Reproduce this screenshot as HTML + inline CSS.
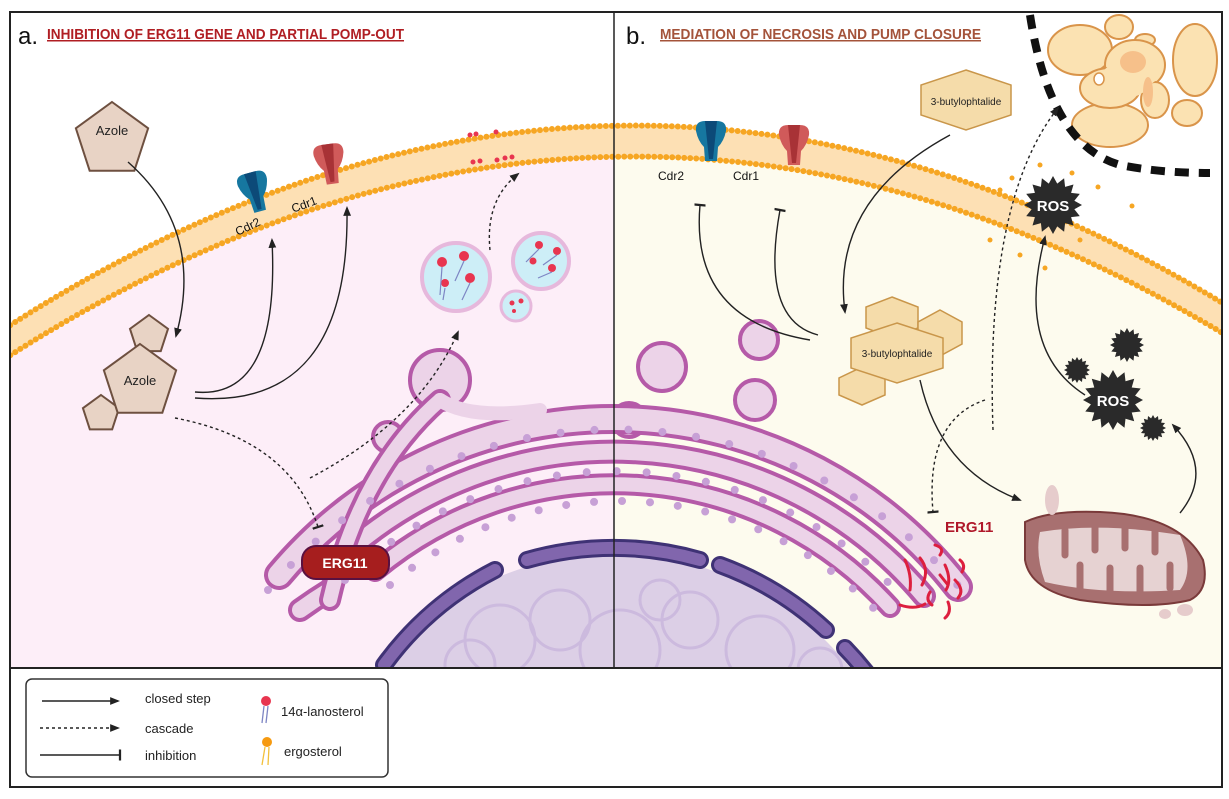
<!DOCTYPE html>
<html><head><meta charset="utf-8"><style>
html,body{margin:0;padding:0;background:#fff;width:1229px;height:799px;overflow:hidden}
svg{display:block}
text{font-family:"Liberation Sans",sans-serif}
</style></head><body>
<svg width="1229" height="799" viewBox="0 0 1229 799" xmlns="http://www.w3.org/2000/svg">
<defs>
<clipPath id="cl"><rect x="10" y="12" width="604" height="656"/></clipPath>
<clipPath id="cr"><rect x="614" y="12" width="608" height="656"/></clipPath>
<clipPath id="cm"><rect x="10" y="12" width="1212" height="656"/></clipPath>
<marker id="ah" viewBox="0 0 10 10" refX="8" refY="5" markerWidth="7" markerHeight="7" orient="auto"><path d="M0,1 L10,5 L0,9 Z" fill="#222"/></marker>
<marker id="tb" viewBox="0 0 10 10" refX="5" refY="5" markerWidth="8" markerHeight="8" orient="auto"><path d="M5,0 L5,10" stroke="#222" stroke-width="2"/></marker>
<polygon id="star" points="1,0 .736,.146 .924,.383 .624,.417 .707,.707 .417,.624 .383,.924 .146,.736 0,1 -.146,.736 -.383,.924 -.417,.624 -.707,.707 -.624,.417 -.924,.383 -.736,.146 -1,0 -.736,-.146 -.924,-.383 -.624,-.417 -.707,-.707 -.417,-.624 -.383,-.924 -.146,-.736 0,-1 .146,-.736 .383,-.924 .417,-.624 .707,-.707 .624,-.417 .924,-.383 .736,-.146"/>
<path id="prot" d="M-15,-10 Q-16,-20 -6,-20 L6,-20 Q16,-20 15,-10 Q13,0 7,6 L6,20 L-6,20 L-7,6 Q-13,0 -15,-10 Z"/>
</defs>

<g clip-path="url(#cl)"><path d="M-20,360 Q615,-65 1250,335 L1250,700 L-20,700 Z" fill="#fdeef8"/></g>
<g clip-path="url(#cr)"><path d="M-20,360 Q615,-65 1250,335 L1250,700 L-20,700 Z" fill="#fdfbee"/></g>

<g clip-path="url(#cm)" fill="none">
<path d="M-20,360 Q615,-65 1250,335" stroke="#fde0b4" stroke-width="30"/>
<path d="M-20,345 Q615,-81 1250,320" stroke="#f6a623" stroke-width="6" stroke-dasharray="0 6" stroke-linecap="round"/>
<path d="M-20,375 Q615,-49 1250,350" stroke="#f6a623" stroke-width="6" stroke-dasharray="0 6" stroke-linecap="round"/>
</g>
<g fill="#f6a623">
<circle cx="1000" cy="190" r="2.5"/><circle cx="1012" cy="178" r="2.5"/><circle cx="1040" cy="165" r="2.5"/><circle cx="1072" cy="173" r="2.5"/><circle cx="1098" cy="187" r="2.5"/><circle cx="1132" cy="206" r="2.5"/><circle cx="1066" cy="200" r="2.5"/><circle cx="990" cy="240" r="2.5"/><circle cx="1020" cy="255" r="2.5"/><circle cx="1045" cy="268" r="2.5"/><circle cx="1080" cy="240" r="2.5"/>
</g>

<g clip-path="url(#cm)">
<circle cx="614" cy="856" r="302" fill="#dccfe6"/>
<g fill="none" stroke="#c9b5dd" stroke-width="3" opacity="0.8">
<circle cx="500" cy="640" r="35"/><circle cx="560" cy="620" r="30"/><circle cx="620" cy="650" r="40"/><circle cx="690" cy="620" r="28"/><circle cx="760" cy="650" r="34"/><circle cx="470" cy="665" r="25"/><circle cx="820" cy="670" r="22"/><circle cx="660" cy="600" r="20"/>
</g>
<g fill="none" stroke-linecap="round">
<path d="M527,560 A314,314 0 0 1 700,560" stroke="#3f3275" stroke-width="18"/>
<path d="M527,560 A314,314 0 0 1 700,560" stroke="#8166ad" stroke-width="12"/>
<path d="M495,570 A314,314 0 0 0 384,665" stroke="#3f3275" stroke-width="18"/>
<path d="M495,570 A314,314 0 0 0 384,665" stroke="#8166ad" stroke-width="12"/>
<path d="M720,565 A314,314 0 0 1 826,630" stroke="#3f3275" stroke-width="18"/>
<path d="M720,565 A314,314 0 0 1 826,630" stroke="#8166ad" stroke-width="12"/>
<path d="M845,648 A314,314 0 0 1 866,672" stroke="#3f3275" stroke-width="18"/>
<path d="M845,648 A314,314 0 0 1 866,672" stroke="#8166ad" stroke-width="12"/>
</g>
</g>

<g fill="none" stroke-linecap="round" clip-path="url(#cm)">
<g stroke="#b55aa8" stroke-width="4" fill="#ecd3e8">
<path d="M420,425 Q430,410 425,395"/>
<circle cx="440" cy="380" r="30"/>
<circle cx="388" cy="437" r="15"/>
<circle cx="662" cy="367" r="24"/>
<circle cx="759" cy="340" r="19"/>
<circle cx="629" cy="420" r="17"/>
<circle cx="755" cy="400" r="20"/>
</g>
<path d="M279,575 A437,437 0 0 1 958,587" stroke="#b55aa8" stroke-width="30"/>
<path d="M279,575 A437,437 0 0 1 958,587" stroke="#ecd3e8" stroke-width="22"/>
<path d="M328,570 A405,405 0 0 1 924,596" stroke="#b55aa8" stroke-width="24"/>
<path d="M328,570 A405,405 0 0 1 924,596" stroke="#ecd3e8" stroke-width="16"/>
<path d="M375,571 A372,372 0 0 1 890,607" stroke="#b55aa8" stroke-width="22"/>
<path d="M375,571 A372,372 0 0 1 890,607" stroke="#ecd3e8" stroke-width="14"/>
<path d="M300,610 A470,470 0 0 1 330,590" stroke="#b55aa8" stroke-width="24"/>
<path d="M300,610 A470,470 0 0 1 330,590" stroke="#ecd3e8" stroke-width="16"/>
<path d="M330,600 Q360,470 440,400" stroke="#b55aa8" stroke-width="22"/>
<path d="M330,600 Q360,470 440,400" stroke="#ecd3e8" stroke-width="14"/>
<path d="M440,400 Q470,420 540,410" stroke="#ecd3e8" stroke-width="14"/>
<path d="M268,590 A455,455 0 0 1 970,600" stroke="#c7a0d6" stroke-width="8" stroke-dasharray="0 34"/>
<path d="M345,580 A390,390 0 0 1 905,600" stroke="#c7a0d6" stroke-width="8" stroke-dasharray="0 30"/>
<path d="M390,585 A355,355 0 0 1 880,615" stroke="#c7a0d6" stroke-width="8" stroke-dasharray="0 28"/>
</g>

<g>
<circle cx="456" cy="277" r="34" fill="#cdeef7" stroke="#e6b8dc" stroke-width="4"/>
<circle cx="541" cy="261" r="28" fill="#cdeef7" stroke="#e6b8dc" stroke-width="4"/>
<circle cx="516" cy="306" r="15" fill="#cdeef7" stroke="#e6b8dc" stroke-width="3"/>
<g fill="#e8354f"><circle cx="442" cy="262" r="5"/><circle cx="464" cy="256" r="5"/><circle cx="445" cy="283" r="4"/><circle cx="470" cy="278" r="5"/><circle cx="539" cy="245" r="4"/><circle cx="557" cy="251" r="4"/><circle cx="533" cy="261" r="3.5"/><circle cx="552" cy="268" r="4"/><circle cx="512" cy="303" r="2.5"/><circle cx="521" cy="301" r="2.5"/><circle cx="514" cy="311" r="2"/></g>
<g stroke="#7e86c4" stroke-width="1.2"><path d="M442,267 L440,295"/><path d="M464,261 L455,281"/><path d="M470,283 L462,300"/><path d="M445,288 L443,300"/><path d="M539,249 L526,262"/><path d="M557,255 L543,265"/><path d="M552,272 L538,278"/></g>
<g fill="#e8354f"><circle cx="470" cy="135" r="2.5"/><circle cx="476" cy="134" r="2.5"/><circle cx="496" cy="132" r="2.5"/><circle cx="473" cy="162" r="2.5"/><circle cx="480" cy="161" r="2.5"/><circle cx="497" cy="160" r="2.5"/><circle cx="505" cy="158" r="2.5"/><circle cx="512" cy="157" r="2.5"/></g>
</g>

<g transform="translate(255,192) rotate(-15)"><use href="#prot" fill="#1677a0"/><path d="M-6,-20 L-2,18 L2,18 L6,-20 Z" fill="#0c4a78"/></g>
<g transform="translate(330,164) rotate(-8)"><use href="#prot" fill="#d05a5a"/><path d="M-6,-20 L-2,18 L2,18 L6,-20 Z" fill="#a83236"/></g>
<g transform="translate(711,141)"><use href="#prot" fill="#1677a0"/><path d="M-6,-20 L-2,18 L2,18 L6,-20 Z" fill="#0c4a78"/></g>
<g transform="translate(794,145)"><use href="#prot" fill="#d05a5a"/><path d="M-6,-20 L-2,18 L2,18 L6,-20 Z" fill="#a83236"/></g>
<g font-size="12" fill="#111">
<text x="235" y="232" transform="rotate(-25 245 228)">Cdr2</text>
<text x="291" y="210" transform="rotate(-20 300 205)">Cdr1</text>
<text x="658" y="180">Cdr2</text>
<text x="733" y="180">Cdr1</text>
</g>

<g fill="#e8d3c5" stroke="#6e5040" stroke-width="2">
<polygon transform="translate(112,140) scale(38)" vector-effect="non-scaling-stroke" points="0,-1 .951,-.309 .588,.809 -.588,.809 -.951,-.309"/>
<polygon transform="translate(149,335) scale(20)" vector-effect="non-scaling-stroke" points="0,-1 .951,-.309 .588,.809 -.588,.809 -.951,-.309"/>
<polygon transform="translate(101,414) scale(19)" vector-effect="non-scaling-stroke" points="0,-1 .951,-.309 .588,.809 -.588,.809 -.951,-.309"/>
<polygon transform="translate(140,382) scale(38)" vector-effect="non-scaling-stroke" points="0,-1 .951,-.309 .588,.809 -.588,.809 -.951,-.309"/>
</g>
<text x="112" y="135" font-size="13" text-anchor="middle" fill="#222">Azole</text>
<text x="140" y="385" font-size="13" text-anchor="middle" fill="#222">Azole</text>

<rect x="302" y="546" width="87" height="33" rx="14" fill="#a61e1e" stroke="#5a1040" stroke-width="2"/>
<text x="345" y="568" font-size="14" font-weight="bold" fill="#fff" text-anchor="middle">ERG11</text>

<g fill="none" stroke="#222" stroke-width="1.4">
<path d="M128,162 Q205,230 176,336" marker-end="url(#ah)"/>
<path d="M195,392 Q280,400 272,240" marker-end="url(#ah)"/>
<path d="M195,398 Q350,410 347,208" marker-end="url(#ah)"/>
<path d="M175,418 Q290,440 318,527" stroke-dasharray="3 3" marker-end="url(#tb)"/>
<path d="M310,478 Q420,420 458,332" stroke-dasharray="3 3" marker-end="url(#ah)"/>
<path d="M490,250 Q485,200 518,174" stroke-dasharray="3 3" marker-end="url(#ah)"/>
</g>

<g fill="#fbe2b2" stroke="#d9944a" stroke-width="2">
<ellipse cx="1080" cy="50" rx="32" ry="25"/>
<ellipse cx="1119" cy="27" rx="14" ry="12"/>
<ellipse cx="1145" cy="40" rx="10" ry="6"/>
<ellipse cx="1195" cy="60" rx="22" ry="36"/>
<ellipse cx="1110" cy="125" rx="38" ry="22"/>
<ellipse cx="1187" cy="113" rx="15" ry="13"/>
<ellipse cx="1135" cy="65" rx="30" ry="25"/>
<ellipse cx="1110" cy="88" rx="30" ry="20"/>
<ellipse cx="1155" cy="100" rx="14" ry="18"/>
</g>
<g fill="#fbe2b2"><ellipse cx="1135" cy="65" rx="28" ry="23"/><ellipse cx="1110" cy="88" rx="28" ry="18"/><ellipse cx="1155" cy="100" rx="12" ry="16"/><ellipse cx="1125" cy="80" rx="25" ry="18"/></g>
<ellipse cx="1099" cy="79" rx="5" ry="6" fill="#fff" stroke="#d9944a" stroke-width="1.5"/>
<ellipse cx="1133" cy="62" rx="13" ry="11" fill="#f6c08a"/>
<ellipse cx="1148" cy="92" rx="5" ry="15" fill="#f6c08a"/>
<path d="M1030,15 Q1050,145 1120,165 Q1160,173 1210,173" fill="none" stroke="#111" stroke-width="8" stroke-dasharray="14 10"/>

<g fill="#f5dcaa" stroke="#c9964a" stroke-width="1.5">
<polygon points="966,70 1011,85 1011,115 966,130 921,115 921,85"/>
<polygon points="892,297 918,307 918,328 892,338 866,328 866,307"/>
<polygon points="940,310 962,322 962,344 940,356 918,344 918,322"/>
<polygon points="862,367 885,378 885,395 862,405 839,395 839,378"/>
<polygon points="897,323 943,338 943,368 897,383 851,368 851,338"/>
</g>
<text x="966" y="105" font-size="10" text-anchor="middle" fill="#222">3-butylophtalide</text>
<text x="897" y="357" font-size="10" text-anchor="middle" fill="#222">3-butylophtalide</text>

<g fill="#2a2a2a">
<g transform="translate(1053,205) scale(29)"><use href="#star"/></g>
<g transform="translate(1113,400) scale(30)"><use href="#star"/></g>
<g transform="translate(1127,345) scale(17)"><use href="#star"/></g>
<g transform="translate(1077,370) scale(13)"><use href="#star"/></g>
<g transform="translate(1153,428) scale(13)"><use href="#star"/></g>
</g>
<text x="1053" y="211" font-size="15" font-weight="bold" fill="#fff" text-anchor="middle">ROS</text>
<text x="1113" y="406" font-size="15" font-weight="bold" fill="#fff" text-anchor="middle">ROS</text>

<path d="M1025,522 Q1050,510 1100,512 Q1180,515 1203,560 Q1210,590 1190,600 Q1150,610 1080,600 Q1030,590 1025,560 Z" fill="#a87070" stroke="#7a3a3a" stroke-width="2"/>
<path d="M1040,532 Q1100,522 1180,535 Q1195,570 1180,590 Q1100,595 1045,582 Q1035,555 1040,532 Z" fill="#e6d2d2"/>
<g stroke="#a87070" stroke-width="7" stroke-linecap="round">
<path d="M1065,530 L1065,555"/><path d="M1095,525 L1095,550"/><path d="M1125,525 L1125,548"/><path d="M1155,530 L1155,552"/><path d="M1080,590 L1080,565"/><path d="M1110,592 L1110,568"/><path d="M1140,592 L1140,568"/><path d="M1170,588 L1170,565"/>
</g>
<g fill="#e6cccc"><ellipse cx="1052" cy="500" rx="7" ry="15"/><ellipse cx="1185" cy="610" rx="8" ry="6"/><ellipse cx="1165" cy="614" rx="6" ry="5"/></g>

<text x="945" y="532" font-size="15" font-weight="bold" fill="#b0182a">ERG11</text>
<g fill="none" stroke="#dd1f3e" stroke-width="3" stroke-linecap="round">
<path d="M905,560 Q912,575 910,590"/><path d="M920,558 Q930,570 922,585"/><path d="M935,545 Q945,548 940,555"/><path d="M945,565 Q952,580 946,590"/><path d="M930,592 Q925,600 932,605"/><path d="M955,580 Q965,590 958,598"/><path d="M900,605 Q915,610 925,604"/><path d="M948,602 Q952,612 945,618"/><path d="M960,560 Q966,565 962,572"/><path d="M940,575 L948,585"/>
</g>

<g fill="none" stroke="#222" stroke-width="1.4">
<path d="M810,340 Q690,320 700,205" marker-end="url(#tb)"/>
<path d="M818,335 Q760,320 780,210" marker-end="url(#tb)"/>
<path d="M950,135 Q830,200 845,312" marker-end="url(#ah)"/>
<path d="M920,380 Q940,470 1020,500" marker-end="url(#ah)"/>
<path d="M985,400 Q925,420 933,512" stroke-dasharray="3 3" marker-end="url(#tb)"/>
<path d="M993,430 Q985,200 1058,108" stroke-dasharray="3 3" marker-end="url(#ah)"/>
<path d="M1085,395 Q1015,350 1045,237" marker-end="url(#ah)"/>
<path d="M1180,513 Q1215,470 1173,425" marker-end="url(#ah)"/>
</g>

<rect x="10" y="12" width="1212" height="775" fill="none" stroke="#222" stroke-width="2"/>
<line x1="10" y1="668" x2="1222" y2="668" stroke="#222" stroke-width="2"/>
<line x1="614" y1="12" x2="614" y2="668" stroke="#222" stroke-width="1.5"/>

<text x="18" y="44" font-size="24" fill="#111">a.</text>
<text x="47" y="39" font-size="15" font-weight="bold" fill="#b01e23" text-decoration="underline" textLength="357" lengthAdjust="spacingAndGlyphs">INHIBITION OF ERG11 GENE AND PARTIAL POMP-OUT</text>
<text x="626" y="44" font-size="24" fill="#111">b.</text>
<text x="660" y="39" font-size="15" font-weight="bold" fill="#a4533a" text-decoration="underline" textLength="321" lengthAdjust="spacingAndGlyphs">MEDIATION OF NECROSIS AND PUMP CLOSURE</text>

<rect x="26" y="679" width="362" height="98" rx="6" fill="#fff" stroke="#333" stroke-width="1.5"/>
<g stroke="#222" stroke-width="1.4" fill="none">
<line x1="42" y1="701" x2="118" y2="701" marker-end="url(#ah)"/>
<line x1="40" y1="728" x2="118" y2="728" stroke-dasharray="3 3" marker-end="url(#ah)"/>
<line x1="40" y1="755" x2="120" y2="755" marker-end="url(#tb)"/>
</g>
<g font-size="13" fill="#222">
<text x="145" y="703">closed step</text>
<text x="145" y="733">cascade</text>
<text x="145" y="760">inhibition</text>
<text x="281" y="716">14α-lanosterol</text>
<text x="284" y="756">ergosterol</text>
</g>
<circle cx="266" cy="701" r="5" fill="#e8354f"/>
<path d="M264,706 L262,723 M268,706 L266,723" stroke="#7e86c4" stroke-width="1.3"/>
<circle cx="267" cy="742" r="5" fill="#f69a10"/>
<path d="M265,747 L262,765 M269,747 L268,765" stroke="#f2c03a" stroke-width="1.3"/>
</svg>
</body></html>
